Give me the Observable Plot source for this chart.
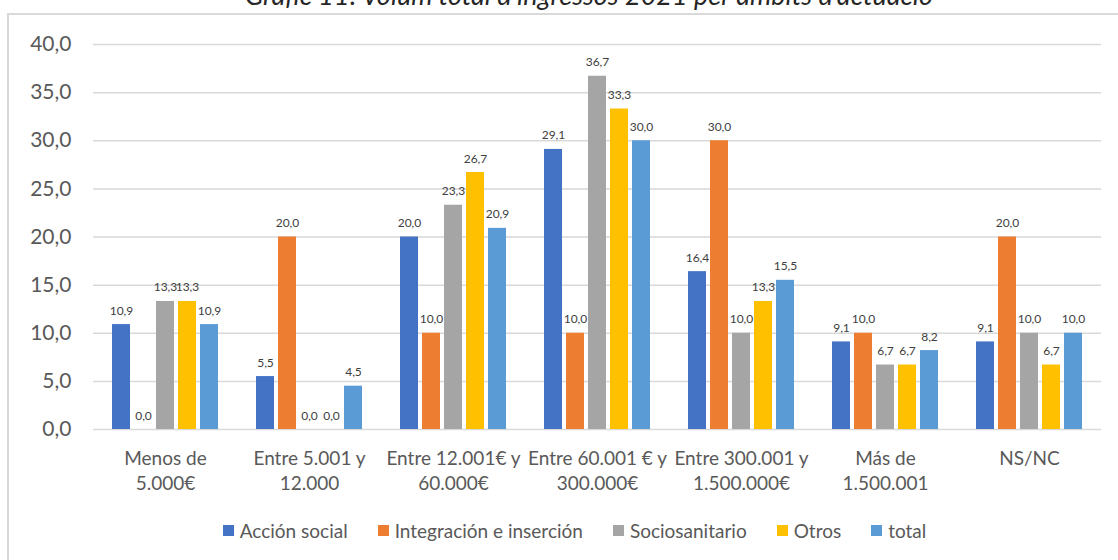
<!DOCTYPE html>
<html>
<head>
<meta charset="utf-8">
<script src="https://cdn.jsdelivr.net/npm/d3@7"></script>
<script src="https://cdn.jsdelivr.net/npm/@observablehq/plot@0.6"></script>
<style>
  html, body { margin: 0; padding: 0; background: #fff; }
  #wrap { position: relative; width: 1118px; height: 560px; overflow: hidden; font-family: Lato, "Noto Sans", sans-serif; }
  #frame { position: absolute; left: 7px; top: 13px; width: 1200px; height: 600px; border: 2px solid #d9d9d9; box-sizing: border-box; pointer-events: none; }
  #title { position: absolute; left: 0; width: 1178px; top: -22px; text-align: center; font-style: italic; font-size: 27px; color: #262626; white-space: nowrap; }
  #chart { position: absolute; left: 0; top: 0; }
  #legend { position: absolute; top: 519px; left: 0; width: 1149px; display: flex; justify-content: center; gap: 30px; font-size: 19px; color: #595959; }
  #legend span.item { display: inline-flex; align-items: center; }
  #legend span.sw { display: inline-block; width: 11px; height: 11px; margin-right: 6px; }
</style>
</head>
<body>
<div id="wrap">
  <div id="title">Gràfic 11: Volum total d’ingressos 2021 per àmbits d’actuació</div>
  <div id="chart"></div>
  <div id="legend"></div>
  <div id="frame"></div>
</div>
<script>
const categories = [
  "Menos de\n5.000€",
  "Entre 5.001 y\n12.000",
  "Entre 12.001€ y\n60.000€",
  "Entre 60.001 € y\n300.000€",
  "Entre 300.001 y\n1.500.000€",
  "Más de\n1.500.001",
  "NS/NC"
];
const seriesNames = ["Acción social", "Integración e inserción", "Sociosanitario", "Otros", "total"];
const seriesColors = ["#4472C4", "#ED7D31", "#A5A5A5", "#FFC000", "#5B9BD5"];
const accionSocial = [10.9, 5.5, 20.0, 29.1, 16.4, 9.1, 9.1];
const integracion  = [0.0, 20.0, 10.0, 10.0, 30.0, 10.0, 20.0];
const sociosanitario = [13.3, 0.0, 23.3, 36.7, 10.0, 6.7, 10.0];
const otros = [13.3, 0.0, 26.7, 33.3, 13.3, 6.7, 6.7];
const total = [10.9, 4.5, 20.9, 30.0, 15.5, 8.2, 10.0];
const yTicks = [0, 5, 10, 15, 20, 25, 30, 35, 40];

const seriesValues = [accionSocial, integracion, sociosanitario, otros, total];
const data = [];
categories.forEach((c, i) => {
  seriesNames.forEach((s, j) => {
    data.push({cat: c, series: s, value: seriesValues[j][i]});
  });
});
const fmt = v => v.toFixed(1).replace(".", ",");

const chart = Plot.plot({
  width: 1118,
  height: 500,
  marginLeft: 90,
  marginRight: 15,
  marginTop: 44,
  marginBottom: 71,
  style: {fontFamily: "Lato, 'Noto Sans', sans-serif", background: "transparent"},
  fx: {domain: categories, padding: 0, label: null},
  x: {domain: seriesNames, paddingInner: 0.2, paddingOuter: 0.845, axis: null},
  y: {domain: [0, 40], label: null},
  color: {domain: seriesNames, range: seriesColors},
  marks: [
    Plot.gridY(yTicks, {stroke: "#d9d9d9", strokeOpacity: 1, strokeWidth: 1.5}),
    Plot.axisY(yTicks, {tickSize: 0, tickPadding: 22, fontSize: 21, fill: "#595959", tickFormat: fmt, label: null}),
    Plot.axisFx({anchor: "bottom", tickSize: 0, tickPadding: 18, fontSize: 19, lineHeight: 1.3, fill: "#595959", label: null}),
    Plot.barY(data, {fx: "cat", x: "series", y: "value", fill: "series"}),
    Plot.text(data, {fx: "cat", x: "series", y: "value", text: d => fmt(d.value), lineAnchor: "bottom", dy: -10, fontSize: 12, fill: "#404040"})
  ]
});
document.getElementById("chart").appendChild(chart);

const legend = document.getElementById("legend");
seriesNames.forEach((s, j) => {
  const item = document.createElement("span");
  item.className = "item";
  const sw = document.createElement("span");
  sw.className = "sw";
  sw.style.background = seriesColors[j];
  item.appendChild(sw);
  item.appendChild(document.createTextNode(s));
  legend.appendChild(item);
});
</script>
</body>
</html>
